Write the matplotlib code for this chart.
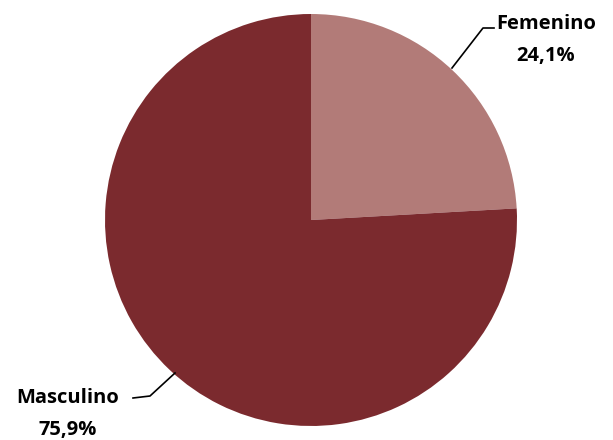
import matplotlib
matplotlib.use("Agg")
import matplotlib.pyplot as plt

# data
labels = ["Femenino", "Masculino"]
values = [24.1, 75.9]
colors = ["#B27B78", "#7B2A2E"]
pct_text = ["24,1%", "75,9%"]

H = 440  # pixel height, used to flip pixel y into data y

fig = plt.figure(figsize=(6.13, 4.40), dpi=100)
ax = fig.add_axes([0, 0, 1, 1])

ax.pie(values, colors=colors, startangle=90, counterclock=False,
       center=(311, H - 220), radius=206, frame=True,
       wedgeprops=dict(linewidth=0))
ax.set_xlim(0, 613)
ax.set_ylim(0, H)
ax.set_aspect("equal")
ax.axis("off")

font = dict(fontsize=14.5, fontweight="bold", family="Open Sans", color="black")

# Femenino label
ax.text(546, H - 24, labels[0], ha="center", va="center", **font)
ax.text(546, H - 56, pct_text[0], ha="center", va="center", **font)
ax.plot([452, 483, 494], [H - 68, H - 28, H - 28], color="black", lw=1.2)

# Masculino label
ax.text(68, H - 398, labels[1], ha="center", va="center", **font)
ax.text(68, H - 430, pct_text[1], ha="center", va="center", **font)
ax.plot([133, 150, 175], [H - 398, H - 396, H - 373], color="black", lw=1.2)

fig.savefig("out.png", dpi=100)
